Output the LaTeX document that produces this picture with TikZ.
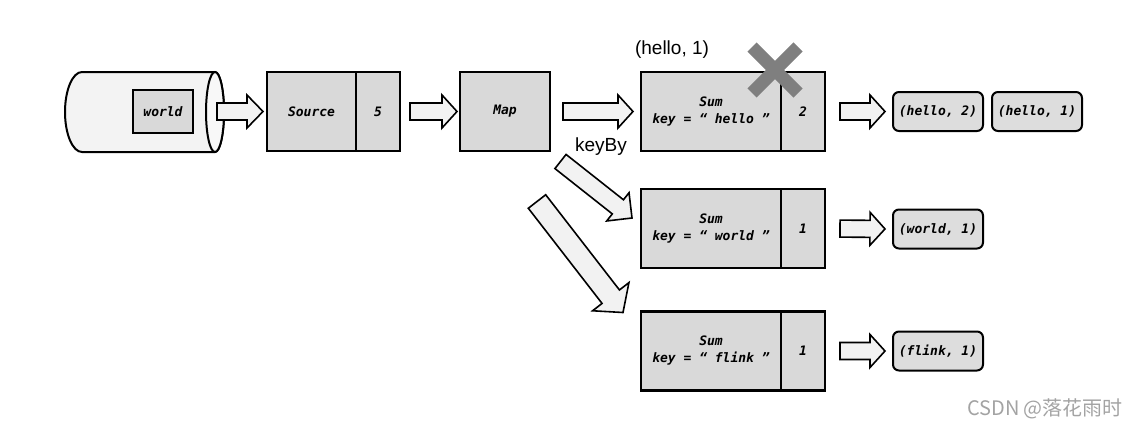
\documentclass[tikz,border=0pt]{standalone}
\usepackage{fontspec}
\setmainfont{Liberation Sans}
\newfontfamily\boxfont{DejaVu Sans Mono}
\newfontfamily\cjk{Noto Sans CJK SC}
\usetikzlibrary{calc, positioning}

\definecolor{boxgray}{HTML}{D9D9D9}
\definecolor{arrowgray}{HTML}{F2F2F2}
\definecolor{cylgray}{HTML}{F3F3F3}
\definecolor{crossgray}{HTML}{7F7F7F}
\definecolor{markgray}{HTML}{A3A3A3}

% fat arrow: from, to, gap at start, gap at end, shaft half width, head half width, head length
\newcommand\fatarrow[7]{%
  \coordinate (fas) at ($(#1)!#3!(#2)$);
  \coordinate (fae) at ($(#2)!#4!(#1)$);
  \coordinate (fah) at ($(fae)!#7!(fas)$);
  \draw[fatarrow] ($(fas)!#5!90:(fae)$) -- ($(fah)!#5!90:(fae)$) -- ($(fah)!#6!90:(fae)$)
    -- (fae) -- ($(fah)!#6!-90:(fae)$) -- ($(fah)!#5!-90:(fae)$) -- ($(fas)!#5!-90:(fae)$) -- cycle;}

\begin{document}
\begin{tikzpicture}[x=1pt, y=-1pt]
        \useasboundingbox (0,0) rectangle (1136,429);

        \tikzstyle{box} = [draw, line width=2.5pt, fill=boxgray, outer sep=0pt, inner sep=0pt,
            minimum height=79pt, align=center, font=\boxfont\bfseries\itshape\fontsize{13}{17}\selectfont]
        \tikzstyle{result} = [box, rounded corners=6pt, line width=2pt, minimum width=90pt, minimum height=39pt, fill=boxgray!90]
        \tikzstyle{fatarrow} = [draw, line width=1.6pt, fill=arrowgray, line join=miter]
        \tikzstyle{cross} = [line width=13pt, crossgray, line cap=butt]
        \tikzstyle{label} = [font=\fontsize{19}{21}\selectfont]

        % Draw the data source.
        \draw[line width=2pt, fill=cylgray] (82,72) -- (215,72) arc[start angle=90, end angle=-90, x radius=9pt, y radius=40pt]
            -- (82,152) arc[start angle=270, end angle=90, x radius=17pt, y radius=40pt] -- cycle;
        \draw[line width=2pt, fill=cylgray!60] (215,112) ellipse[x radius=9pt, y radius=40pt];
        \node[box, minimum width=60pt, minimum height=43pt] (word) at (163,111.5) {world};
        \coordinate (dbout) at (217,111.5);

        % Draw the operators.
        \node[box, minimum width=89pt] (src) at (311.5,111.5) {Source};
        \node[box, minimum width=44pt, right=0pt of src] (srcv) {5};
        \node[box, minimum width=90pt] (map) at (505,111.5) {Map};
        \node[box, minimum width=140pt] (sumh) at (711,111.5) {Sum\\key = “ hello ”};
        \node[box, minimum width=44pt, right=0pt of sumh] (sumhv) {2};
        \node[box, minimum width=140pt] (sumw) at (711,228.5) {Sum\\key = “ world ”};
        \node[box, minimum width=44pt, right=0pt of sumw] (sumwv) {1};
        \node[box, minimum width=140pt] (sumf) at (711,351) {Sum\\key = “ flink ”};
        \node[box, minimum width=44pt, right=0pt of sumf] (sumfv) {1};

        % Draw the results.
        \node[result] (rh2) at (938,111.5) {(hello, 2)};
        \node[result, right=9pt of rh2] (rh1) {(hello, 1)};
        \node[result] (rw) at (938,229) {(world, 1)};
        \node[result] (rf) at (938,351) {(flink, 1)};

        % Draw the arrows.
        \fatarrow{dbout}{src.west}{0pt}{4pt}{8.5pt}{16.5pt}{16pt}
        \fatarrow{srcv.east}{map.west}{10pt}{3pt}{8.5pt}{16.5pt}{15pt}
        \fatarrow{map.east}{sumh.west}{13pt}{8pt}{8.5pt}{16.5pt}{15pt}
        \fatarrow{sumhv.east}{rh2.west}{15pt}{8pt}{8.5pt}{16.5pt}{15pt}
        \fatarrow{sumwv.east}{rw.west}{15pt}{8pt}{8.5pt}{16.5pt}{15pt}
        \fatarrow{sumfv.east}{rf.west}{15pt}{8pt}{8.5pt}{16.5pt}{15pt}
        \coordinate (kb1) at (560.5,161.5);
        \coordinate (kb2) at (537,201.5);
        \coordinate (tw) at ($(sumw.west)+(-9,-10.5)$);
        \coordinate (tf) at ($(sumf.north west)+(-18,1)$);
        \fatarrow{kb1}{tw}{0pt}{0pt}{9pt}{18pt}{18pt}
        \fatarrow{kb2}{tf}{0pt}{0pt}{11pt}{23pt}{20pt}

        % Labels and the crossed-out count.
        \node[label] (in) at (672,50) {(hello, 1)};
        \node[label] (kb) at (601,147) {keyBy};
        \draw[cross] (752,47) -- (798,93);
        \draw[cross] (798,47) -- (752,93);

        \node[font=\cjk\fontsize{20}{22}\selectfont, text=markgray] (mark) at (1045,409) {CSDN @落花雨时};
\end{tikzpicture}
\end{document}
